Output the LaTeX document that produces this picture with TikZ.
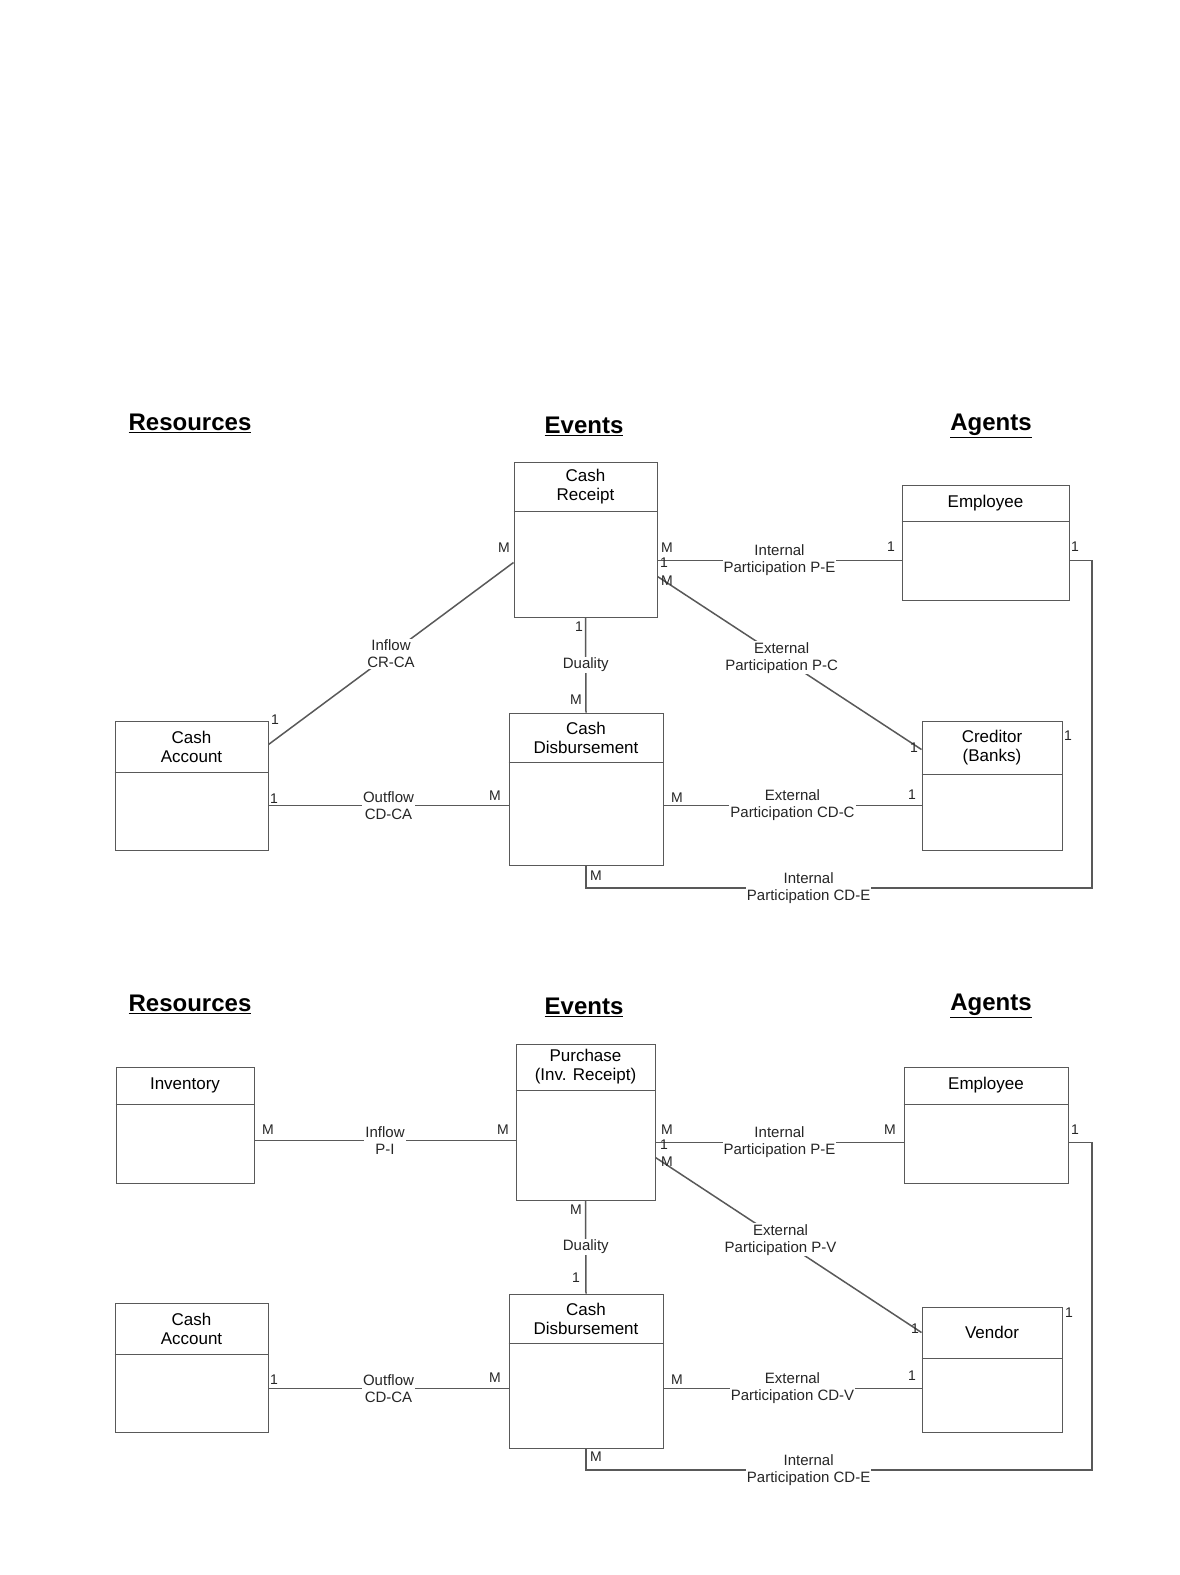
\documentclass[tikz,border=0pt]{standalone}
\usepackage{fontspec}
\setmainfont{Liberation Sans}
\tikzset{
  entbox/.style={draw=black!65, line width=1pt, inner sep=0pt, fill=white},
  divider/.style={draw=black!65, line width=1pt},
  hdr/.style={font=\fontsize{17}{19}\selectfont, align=center, inner sep=0pt},
  conn/.style={draw=black!65, line width=1.5pt},
  rlabel/.style={font=\fontsize{15}{17}\selectfont, align=center, fill=white, inner sep=1pt, text=black!85},
  card/.style={font=\fontsize{14}{16}\selectfont, inner sep=0pt, text=black!85},
  heading/.style={font=\fontsize{24}{28}\selectfont\bfseries, inner sep=0pt}
}
\newcommand{\entity}[7]{%
  \node[entbox, minimum width=#4, minimum height=#5] (#1) at (#2,#3) {};
  \draw[divider] ([yshift=-#6]#1.north west) -- ([yshift=-#6]#1.north east);
  \node[hdr] (#1-t) at ([yshift=-#6/2]#1.north) {#7};
}
\begin{document}
\begin{tikzpicture}[x=1pt,y=1pt]
\useasboundingbox[fill=white] (0,0) rectangle (1180,-1575);

% ===== Top diagram =====
\node[heading] (h1) at (190,-423) {\underline{Resources}};
\node[heading] (h2) at (584,-426) {\underline{Events}};
\node[heading] (h3) at (991,-426) {\underline{Agents}};

\entity{cr}{585.5}{-539.5}{143}{155}{50}{Cash\\Receipt}
\entity{emp}{985.5}{-542.5}{167}{115}{37}{Employee}
\entity{ca}{191.5}{-785.5}{153}{129}{52}{Cash\\Account}
\entity{cd}{586}{-789}{154}{152}{50}{Cash\\Disbursement}
\entity{crd}{992}{-785.5}{140}{129}{54}{Creditor\\(Banks)}

\coordinate (k1) at (1092,-888);
\draw[conn] ([yshift=-24]ca.north east) -- node[rlabel] (l1) {Inflow\\CR-CA} ([yshift=-101]cr.north west);
\draw[conn] ([yshift=-99]cr.north east) -- node[rlabel] (l2) {Internal\\Participation P-E} ([yshift=-76]emp.north west);
\draw[conn] ([yshift=-115]cr.north east) -- node[rlabel, pos=0.47] (l3) {External\\Participation P-C} ([yshift=-29]crd.north west);
\draw[conn] (cr.south) -- node[rlabel] (l4) {Duality} (cd.north);
\draw[conn] ([yshift=-85]ca.north east) -- node[rlabel] (l5) {Outflow\\CD-CA} ([yshift=-93]cd.north west);
\draw[conn] ([yshift=-93]cd.north east) -- node[rlabel] (l6) {External\\Participation CD-C} ([yshift=-85]crd.north west);
\draw[conn] (cd.south) |- node[rlabel, pos=0.72] (l7) {Internal\\Participation CD-E} (k1) |- ([yshift=-76]emp.north east);

\node[card] (c1) at (504,-548) {M};
\node[card] (c2) at (275,-720) {1};
\node[card] (c3) at (274,-799) {1};
\node[card] (c4) at (495,-796) {M};
\node[card] (c5) at (667,-548) {M};
\node[card] (c6) at (664,-563) {1};
\node[card] (c7) at (667,-581) {M};
\node[card] (c8) at (891,-547) {1};
\node[card] (c9) at (1075,-547) {1};
\node[card] (c10) at (914,-748) {1};
\node[card] (c11) at (912,-795) {1};
\node[card] (c12) at (677,-798) {M};
\node[card] (c13) at (596,-876) {M};
\node[card] (c14) at (1068,-736) {1};
\node[card] (c15) at (579,-627) {1};
\node[card] (c16) at (576,-700) {M};

% ===== Bottom diagram =====
\node[heading] (g1) at (190,-1004) {\underline{Resources}};
\node[heading] (g2) at (584,-1007) {\underline{Events}};
\node[heading] (g3) at (991,-1006) {\underline{Agents}};

\entity{inv}{185}{-1125}{138}{116}{38}{Inventory}
\entity{pur}{585.5}{-1122}{139}{156}{47}{Purchase\\(Inv. Receipt)}
\entity{emp2}{986}{-1125}{164}{116}{38}{Employee}
\entity{ca2}{191.5}{-1367.5}{153}{129}{52}{Cash\\Account}
\entity{cd2}{586}{-1371}{154}{154}{50}{Cash\\Disbursement}
\entity{ven}{992}{-1369.5}{140}{125}{52}{Vendor}

\coordinate (k2) at (1092,-1470);
\draw[conn] ([yshift=-74]inv.north east) -- node[rlabel] (m1) {Inflow\\P-I} ([yshift=-97]pur.north west);
\draw[conn] ([yshift=-99]pur.north east) -- node[rlabel] (m2) {Internal\\Participation P-E} ([yshift=-76]emp2.north west);
\draw[conn] ([yshift=-114]pur.north east) -- node[rlabel, pos=0.47] (m3) {External\\Participation P-V} ([yshift=-26]ven.north west);
\draw[conn] (pur.south) -- node[rlabel] (m4) {Duality} (cd2.north);
\draw[conn] ([yshift=-86]ca2.north east) -- node[rlabel] (m5) {Outflow\\CD-CA} ([yshift=-95]cd2.north west);
\draw[conn] ([yshift=-95]cd2.north east) -- node[rlabel] (m6) {External\\Participation CD-V} ([yshift=-82]ven.north west);
\draw[conn] (cd2.south) |- node[rlabel, pos=0.72] (m7) {Internal\\Participation CD-E} (k2) |- ([yshift=-76]emp2.north east);

\node[card] (d1) at (268,-1130) {M};
\node[card] (d2) at (503,-1130) {M};
\node[card] (d3) at (667,-1130) {M};
\node[card] (d4) at (890,-1130) {M};
\node[card] (d5) at (664,-1145) {1};
\node[card] (d6) at (667,-1162) {M};
\node[card] (d7) at (915,-1329) {1};
\node[card] (d8) at (576,-1210) {M};
\node[card] (d9) at (576,-1278) {1};
\node[card] (d10) at (274,-1380) {1};
\node[card] (d11) at (495,-1378) {M};
\node[card] (d12) at (677,-1380) {M};
\node[card] (d13) at (912,-1376) {1};
\node[card] (d14) at (596,-1457) {M};
\node[card] (d15) at (1075,-1130) {1};
\node[card] (d16) at (1069,-1313) {1};
\end{tikzpicture}
\end{document}
